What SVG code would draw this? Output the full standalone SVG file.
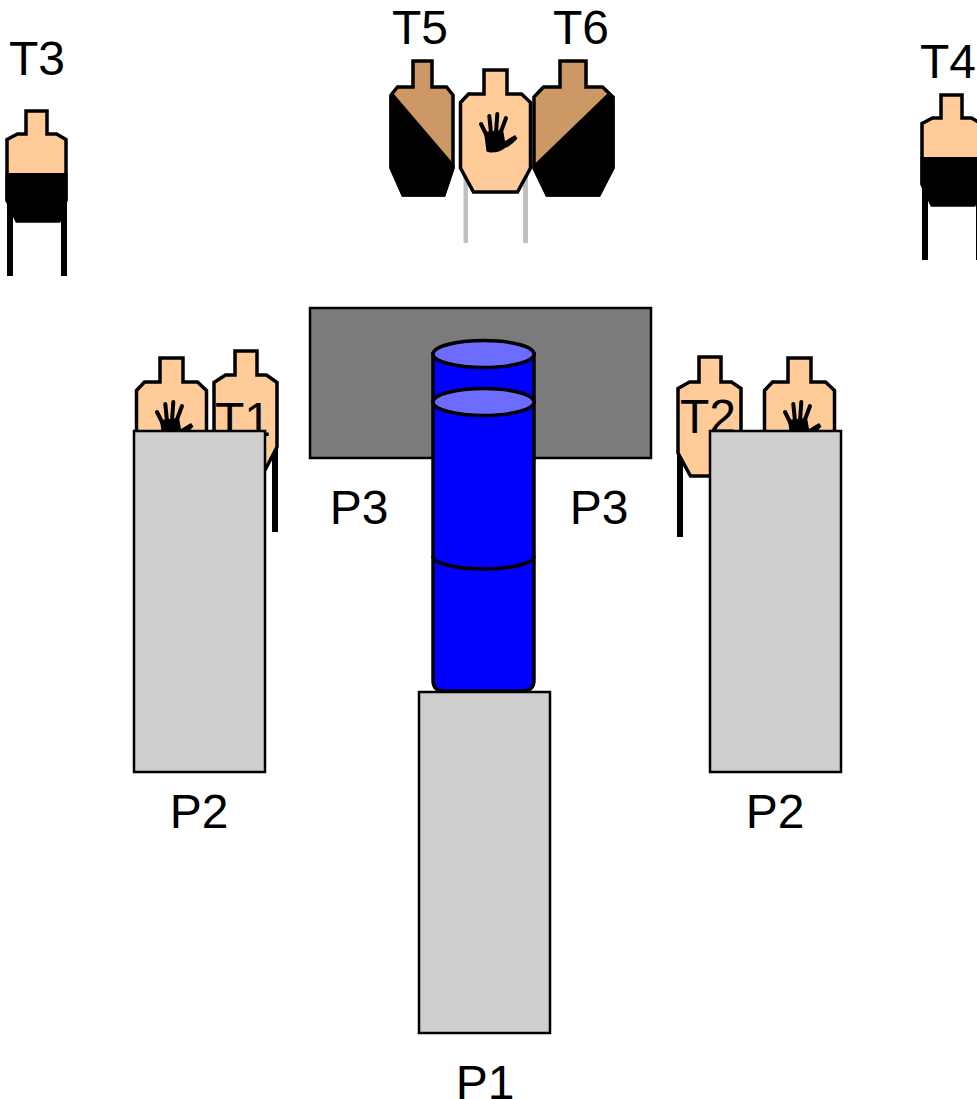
<svg xmlns="http://www.w3.org/2000/svg" width="977" height="1099" viewBox="0 0 977 1099">
<style>
text{font-family:"Liberation Sans",Arial,sans-serif;font-size:48px;fill:#000;text-anchor:middle}
.t{stroke:#000;stroke-width:3.500;stroke-linejoin:miter}
.skin{fill:#ffcc99}
.tan{fill:#cc9966}
.blk{fill:#000;stroke:none}
.leg{fill:#000;stroke:none}
.gleg{fill:#c0c0c0;stroke:none}
.box{fill:#cecece;stroke:#000;stroke-width:2.500}
.cyl{fill:#0000ff;stroke:#000;stroke-width:3.500}
.top{fill:#6c6cff;stroke:#000;stroke-width:3.500}
.fing{fill:none;stroke:#000;stroke-width:4;stroke-linecap:round}
</style>
<defs>
<g id="hand">
<path class="blk" d="M484 132L503 130L505 141Q510 138 515 135L517.500 138.500Q511 146 505 148Q499 153 490 152.500L486.500 151.500Z"/>
<path class="fing" d="M481 124L488 138M489.300 116L491 133M497.300 114L496 133M506 118L500 134"/>
</g>
<path id="wide" d="M484 70H507V94H521.500L530.500 102.500V168L517.500 192H473.500L460.500 168V102.500L468.500 94H484Z"/>
</defs>

<g id="T3">
<rect class="leg" x="7" y="190" width="6" height="86"/>
<rect class="leg" x="61" y="190" width="6" height="86"/>
<path class="t skin" d="M26 111H47V134H56.500L66 139.500V200L59 221H17L7 200V139.500L17.500 134H26Z"/>
<path class="blk" d="M5.500 173H67.500V200.500L60 222H16L5.500 200.500Z"/>
<text x="37" y="75">T3</text>
</g>

<g id="T4">
<rect class="leg" x="922" y="174" width="6" height="86"/>
<rect class="leg" x="976" y="174" width="6" height="86"/>
<path class="t skin" d="M941 95H962V118H971.500L981 123.500V184L974 205H932L922 184V123.500L932.500 118H941Z"/>
<path class="blk" d="M920.500 157H982.500V184.500L975 206H931L920.500 184.500Z"/>
<text x="948" y="78">T4</text>
</g>

<g id="T5">
<path class="t tan" d="M413 61H432V87H446.500L453 95V168L444 195H403L391 168V95L397.500 87H413Z"/>
<path class="blk" d="M393 93L454.500 165V168L445 196.500H402L389.500 168V95Z"/>
<text x="420" y="43.500">T5</text>
</g>

<g id="T6">
<path class="t tan" d="M560 61H586V87H602.500L613 97V168L599 195H547L534 168V97L543.500 87H560Z"/>
<path class="blk" d="M608 93L614.500 97V168L600 196.500H546L532.500 168V166Z"/>
<text x="581" y="43.500">T6</text>
</g>

<g id="target-top">
<rect class="gleg" x="463.500" y="170" width="4.500" height="73"/>
<rect class="gleg" x="523" y="170" width="5" height="73"/>
<use href="#wide" class="t skin"/>
<use href="#hand"/>
</g>

<g id="target-left">
<use href="#wide" class="t skin" transform="translate(-324 288)"/>
<use href="#hand" transform="translate(-324 288)"/>
</g>

<g id="T1">
<rect class="leg" x="272" y="445" width="6" height="87"/>
<path class="t skin" d="M235 351H257V375H266.500L277 382.500V447L264.500 471H226.500L214 447V382.500L225.500 375H235Z"/>
<text x="243" y="436">T1</text>
</g>

<g id="target-right">
<use href="#wide" class="t skin" transform="translate(304 288)"/>
<use href="#hand" transform="translate(304 288)"/>
</g>

<g id="T2">
<rect class="leg" x="677" y="450" width="6" height="87"/>
<path class="t skin" d="M699 357H721V382H731.500L741 388.500V453L728.500 476H690.500L678 453V388.500L689.500 382H699Z"/>
<text x="708" y="433">T2</text>
</g>

<g id="P3-plate">
<rect x="310" y="308" width="341" height="150" fill="#7b7b7b" stroke="#000" stroke-width="2.500"/>
</g>
<text x="359" y="524">P3</text>
<text x="599" y="524">P3</text>

<g id="P2-left">
<rect class="box" x="134" y="431" width="131" height="341"/>
<text x="199" y="828">P2</text>
</g>
<g id="P2-right">
<rect class="box" x="710" y="431" width="131" height="341"/>
<text x="775" y="828">P2</text>
</g>

<g id="cylinder">
<path class="cyl" d="M433 354V680Q433 691 444 691H522Q534 691 534 680V354Z"/>
<path d="M433 556A50.500 13 0 0 0 534 556" fill="none" stroke="#000" stroke-width="3.500"/>
<ellipse class="top" cx="483.500" cy="354" rx="50.500" ry="13.500"/>
<ellipse class="top" cx="483.500" cy="402" rx="50.500" ry="13.500"/>
</g>

<g id="P1">
<rect class="box" x="419" y="692" width="131" height="341"/>
<text x="485" y="1099">P1</text>
</g>
</svg>
